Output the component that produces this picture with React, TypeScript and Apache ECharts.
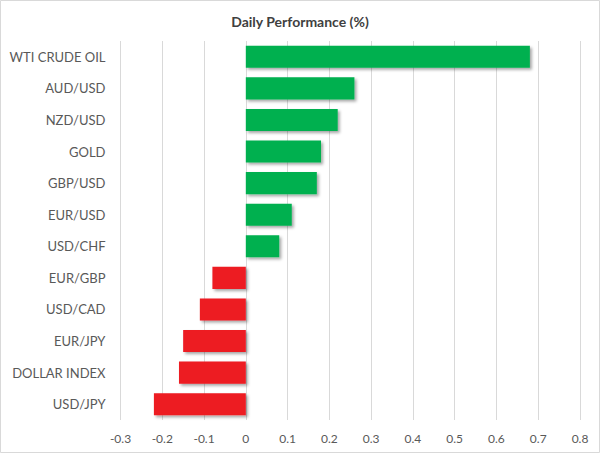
import React, { useEffect, useRef } from "react";
import * as echarts from "echarts";

const categories = ["WTI CRUDE OIL", "AUD/USD", "NZD/USD", "GOLD", "GBP/USD", "EUR/USD", "USD/CHF", "EUR/GBP", "USD/CAD", "EUR/JPY", "DOLLAR INDEX", "USD/JPY"];
const values = [0.68, 0.26, 0.22, 0.18, 0.17, 0.11, 0.08, -0.08, -0.11, -0.15, -0.16, -0.22];
const xTicks = { min: -0.3, max: 0.8, interval: 0.1 };
const titleText = "Daily Performance (%)";

export default function App() {
  const ref = useRef<HTMLDivElement>(null);
  useEffect(() => {
    document.body.style.margin = "0";
    const chart = echarts.init(ref.current!, null, { renderer: "svg" });
    const font = "Lato, 'Open Sans', sans-serif";
    chart.setOption({
      animation: false,
      backgroundColor: "#ffffff",
      title: {
        text: titleText,
        left: "center",
        top: 9,
        textStyle: { fontFamily: font, fontSize: 14, fontWeight: "bold", color: "#404040" },
      },
      graphic: [
        {
          type: "rect",
          shape: { x: 0.5, y: 0.5, width: 599, height: 452 },
          style: { fill: "none", stroke: "#D9D9D9", lineWidth: 1 },
          silent: true,
        },
      ],
      grid: { left: 120.5, right: 20, top: 41, bottom: 33, containLabel: false },
      xAxis: {
        type: "value",
        min: xTicks.min,
        max: xTicks.max,
        interval: xTicks.interval,
        axisLine: { show: false },
        axisTick: { show: false },
        splitLine: { show: true, lineStyle: { color: "#D9D9D9", width: 1 } },
        axisLabel: {
          fontFamily: font,
          fontSize: 12,
          color: "#595959",
          margin: 12,
          formatter: (v: number) => {
            const r = Math.round(v * 10) / 10;
            return r === 0 ? "0" : String(r);
          },
        },
      },
      yAxis: {
        type: "category",
        data: categories,
        inverse: true,
        axisLine: { show: false },
        axisTick: { show: false },
        splitLine: { show: false },
        axisLabel: { fontFamily: font, fontSize: 13, color: "#595959", margin: 15 },
      },
      series: [
        {
          type: "bar",
          data: values.map((v) => ({
            value: v,
            itemStyle: { color: v >= 0 ? "#00B050" : "#ED1C24" },
          })),
          barCategoryGap: "30%",
          itemStyle: {
            shadowColor: "rgba(0,0,0,0.35)",
            shadowBlur: 3,
            shadowOffsetX: 2,
            shadowOffsetY: 2,
          },
        },
      ],
    });
    return () => chart.dispose();
  }, []);
  return <div ref={ref} style={{ width: 600, height: 453 }} />;
}
